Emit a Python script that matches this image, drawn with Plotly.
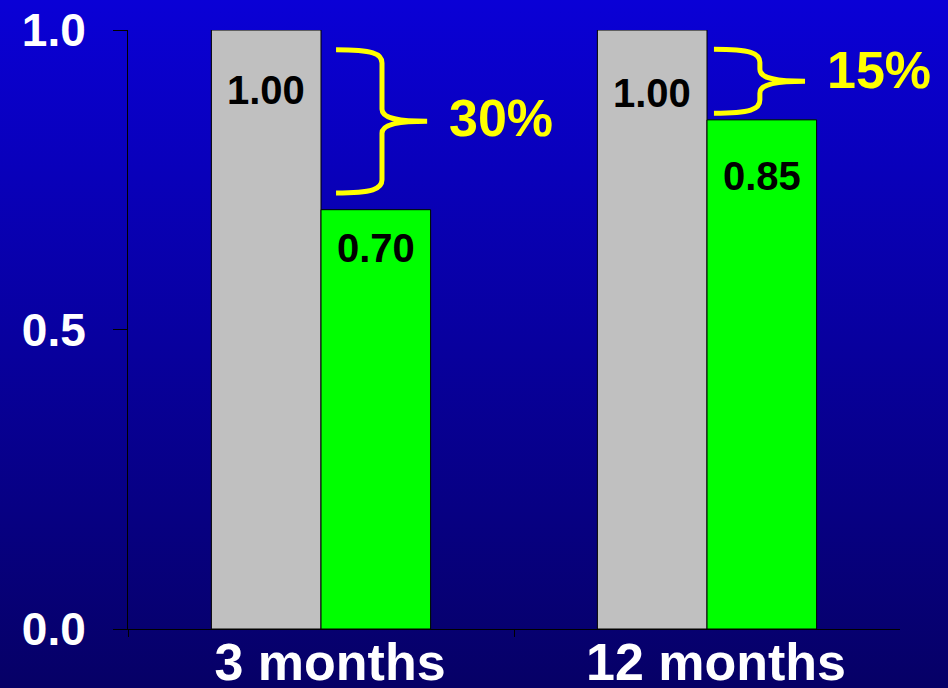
import base64
import plotly.graph_objects as go

# ---- data ----
periods = ["3 months", "12 months"]
reference_values = [1.00, 1.00]
treated_values = [0.70, 0.85]
y_tick_values = [0.0, 0.5, 1.0]

# ---- styling constants ----
FONT = "Liberation Sans, Arial, sans-serif"
W, H = 948, 688
M_L, M_R, M_T, M_B = 128, 48, 30, 59
PLOT_W, PLOT_H = W - M_L - M_R, H - M_T - M_B
BAR_W = 0.284

# label offsets (pixels below the bar top)
ref_label_drop = [60, 63]
trt_label_drop = [38, 56]

# brace geometry (x relative to category centre, y insets in data units)
brace_x_start = [0.039, 0.018]
brace_to_stem = 0.119
brace_to_tip = 0.236
brace_top_inset = [0.033, 0.032]
brace_bottom_inset = [0.028, 0.011]
pct_label_shift = [3, 11]

x_pos = list(range(len(periods)))

fig = go.Figure()
fig.add_trace(go.Bar(
    x=x_pos, y=reference_values, width=BAR_W, offset=-BAR_W,
    marker=dict(color="#c0c0c0", line=dict(color="black", width=1)),
    hoverinfo="skip", showlegend=False,
))
fig.add_trace(go.Bar(
    x=x_pos, y=treated_values, width=BAR_W, offset=0,
    marker=dict(color="#00ff00", line=dict(color="black", width=1)),
    hoverinfo="skip", showlegend=False,
))

# value labels inside the bars
for i in x_pos:
    fig.add_annotation(x=i - BAR_W / 2, y=reference_values[i], yshift=-ref_label_drop[i],
                       text=f"<b>{reference_values[i]:.2f}</b>", showarrow=False,
                       xanchor="center", yanchor="middle",
                       font=dict(family=FONT, size=40, color="black"))
    fig.add_annotation(x=i + BAR_W / 2, y=treated_values[i], yshift=-trt_label_drop[i],
                       text=f"<b>{treated_values[i]:.2f}</b>", showarrow=False,
                       xanchor="center", yanchor="middle",
                       font=dict(family=FONT, size=40, color="black"))


def brace_path(x0, xs, xt, yt, yb, r=0.022, r2=0.02):
    ym = (yt + yb) / 2
    xc = x0 + 0.8 * (xs - x0)
    xq = xs + 0.3 * (xt - xs)
    return (
        f"M {x0},{yt} C {xc},{yt} {xs},{yt - 0.3 * r} {xs},{yt - r} "
        f"L {xs},{ym + r2} C {xs},{ym + 0.3 * r2} {xq},{ym} {xt},{ym} "
        f"C {xq},{ym} {xs},{ym - 0.3 * r2} {xs},{ym - r2} "
        f"L {xs},{yb + r} C {xs},{yb + 0.3 * r} {xc},{yb} {x0},{yb}"
    )


# braces showing the relative reduction
for i in x_pos:
    x0 = i + brace_x_start[i]
    xs = x0 + brace_to_stem
    xt = x0 + brace_to_tip
    yt = reference_values[i] - brace_top_inset[i]
    yb = treated_values[i] + brace_bottom_inset[i]
    fig.add_shape(type="path", xref="x", yref="y",
                  path=brace_path(x0, xs, xt, yt, yb),
                  line=dict(color="#ffff00", width=5))
    pct = round((1 - treated_values[i] / reference_values[i]) * 100)
    fig.add_annotation(x=xt, y=(yt + yb) / 2, xshift=20, yshift=pct_label_shift[i],
                       text=f"<b>{pct}%</b>", showarrow=False,
                       xanchor="left", yanchor="middle",
                       font=dict(family=FONT, size=52, color="#ffff00"))

# vertical blue gradient behind everything
svg = (
    f"<svg xmlns='http://www.w3.org/2000/svg' width='{W}' height='{H}' "
    f"viewBox='0 0 {W} {H}' preserveAspectRatio='none'>"
    "<defs><linearGradient id='g' x1='0' y1='0' x2='0' y2='1'>"
    "<stop offset='0' stop-color='#0a00d6'/>"
    "<stop offset='1' stop-color='#060066'/>"
    "</linearGradient></defs>"
    f"<rect width='{W}' height='{H}' fill='url(#g)'/></svg>"
)
bg_uri = "data:image/svg+xml;base64," + base64.b64encode(svg.encode()).decode()
fig.add_layout_image(
    source=bg_uri, xref="paper", yref="paper",
    x=-M_L / PLOT_W, y=1 + M_T / PLOT_H,
    sizex=W / PLOT_W, sizey=H / PLOT_H,
    xanchor="left", yanchor="top", sizing="stretch", layer="below",
)

fig.update_layout(
    width=W, height=H,
    margin=dict(l=M_L, r=M_R, t=M_T, b=M_B, pad=0, autoexpand=False),
    paper_bgcolor="#08009c", plot_bgcolor="rgba(0,0,0,0)",
    barmode="overlay", showlegend=False,
    font=dict(family=FONT, color="white"),
)
fig.update_xaxes(
    range=[-0.5, 1.5], tickmode="array", tickvals=x_pos,
    ticktext=[f"<b>{p}</b>" for p in periods],
    ticks="", showgrid=False, zeroline=False, automargin=False,
    showline=True, linecolor="black", linewidth=1,
    tickfont=dict(family=FONT, size=52, color="white"),
    ticklabelshift=9, ticklabelstandoff=-12,
    minor=dict(tickmode="array", tickvals=[-0.5, 0.5], ticks="outside",
               ticklen=7, tickcolor="black", tickwidth=1, showgrid=False),
)
fig.update_yaxes(
    range=[0, 1.0], tickmode="array", tickvals=y_tick_values,
    ticktext=[f"<b>{v:.1f}</b>" for v in y_tick_values],
    ticks="outside", ticklen=14, tickcolor="black", tickwidth=1,
    ticklabelstandoff=18, automargin=False,
    showgrid=False, zeroline=False,
    showline=True, linecolor="black", linewidth=1,
    tickfont=dict(family=FONT, size=46, color="white"),
)

fig.write_html("out.html")
